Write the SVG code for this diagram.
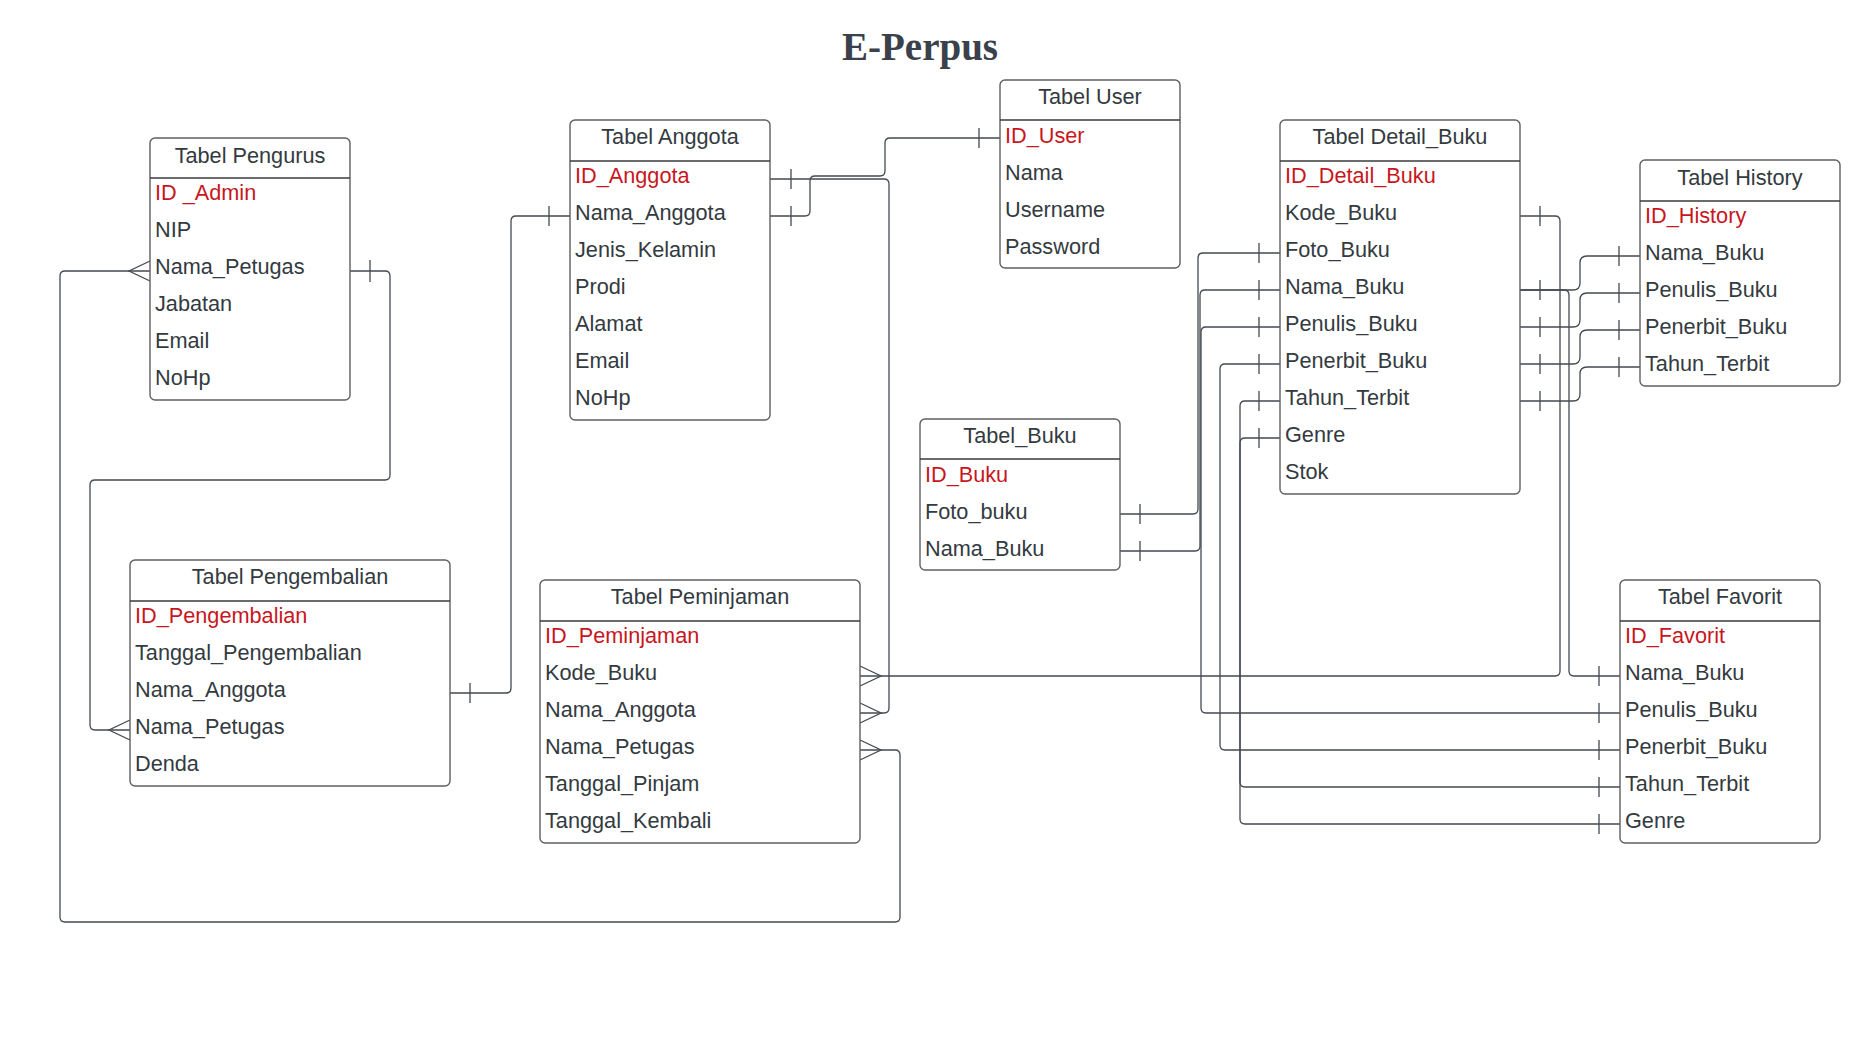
<svg xmlns="http://www.w3.org/2000/svg" width="1870" height="1042" viewBox="0 0 1870 1042">
<style>
.box{fill:#ffffff;stroke:#5f5f5f;stroke-width:1.4}
.sep{stroke:#3a3a3a;stroke-width:1.4}
.hd{font-family:"Liberation Sans",Arial,sans-serif;font-size:21.7px;fill:#333a40;text-anchor:middle}
.f{font-family:"Liberation Sans",Arial,sans-serif;font-size:21.7px;fill:#333a40}
.pk{font-family:"Liberation Sans",Arial,sans-serif;font-size:21.7px;fill:#c8161e}
.title{font-family:"Liberation Serif","Times New Roman",serif;font-size:39px;font-weight:bold;fill:#3a414a;text-anchor:middle}
.c{fill:none;stroke:#444a50;stroke-width:1.3}
</style>
<rect width="1870" height="1042" fill="#ffffff"/>
<text class="title" x="920" y="60">E-Perpus</text>

<g id="connectors">
<!-- Pengurus.Nama_Petugas -> Pengembalian.Nama_Petugas -->
<path class="c" d="M350,271 H385 Q390,271 390,276 V475 Q390,480 385,480 H95 Q90,480 90,485 V725 Q90,730 95,730 H130"/>
<path class="c" d="M370,260 V282 M130,720 L109,730 L130,740"/>
<!-- Pengurus.Nama_Petugas -> Peminjaman.Nama_Petugas -->
<path class="c" d="M150,271 H65 Q60,271 60,276 V917 Q60,922 65,922 H895 Q900,922 900,917 V755 Q900,750 895,750 H860"/>
<path class="c" d="M150,261 L129,271 L150,281 M860,740 L881,750 L860,760"/>
<!-- Anggota.Nama_Anggota -> Pengembalian.Nama_Anggota -->
<path class="c" d="M570,216 H516 Q511,216 511,221 V688 Q511,693 506,693 H450"/>
<path class="c" d="M549,206 V226 M470,683 V703"/>
<!-- Anggota.ID_Anggota -> Peminjaman.Nama_Anggota -->
<path class="c" d="M770,179 H884 Q889,179 889,184 V708 Q889,713 884,713 H860"/>
<path class="c" d="M791,169 V189 M860,703 L881,713 L860,723"/>
<!-- Anggota.Nama_Anggota -> User.ID_User -->
<path class="c" d="M770,216 H805 Q810,216 810,211 V181 Q810,176 815,176 H880 Q885,176 885,171 V143 Q885,138 890,138 H1000"/>
<path class="c" d="M791,206 V226 M979,128 V148"/>
<!-- Tabel_Buku -> Detail_Buku -->
<path class="c" d="M1120,514 H1193 Q1198,514 1198,509 V258 Q1198,253 1203,253 H1280"/>
<path class="c" d="M1120,551 H1195 Q1200,551 1200,546 V295 Q1200,290 1205,290 H1280"/>
<path class="c" d="M1140,504 V524 M1140,541 V561 M1259,243 V263 M1259,280 V300"/>
<!-- Detail_Buku -> Favorit -->
<path class="c" d="M1280,327 H1206 Q1201,327 1201,332 V708 Q1201,713 1206,713 H1620"/>
<path class="c" d="M1280,364 H1225 Q1220,364 1220,369 V745 Q1220,750 1225,750 H1620"/>
<path class="c" d="M1280,401 H1245 Q1240,401 1240,406 V782 Q1240,787 1245,787 H1620"/>
<path class="c" d="M1280,438 H1245 Q1240,438 1240,443 V819 Q1240,824 1245,824 H1620"/>
<path class="c" d="M1520,290 H1564 Q1569,290 1569,295 V671 Q1569,676 1574,676 H1620"/>
<path class="c" d="M1259,317 V337 M1259,354 V374 M1259,391 V411 M1259,428 V448"/>
<path class="c" d="M1599,666 V686 M1599,703 V723 M1599,740 V760 M1599,777 V797 M1599,814 V834"/>
<!-- Detail_Buku.Kode_Buku -> Peminjaman.Kode_Buku -->
<path class="c" d="M1520,216 H1555 Q1560,216 1560,221 V671 Q1560,676 1555,676 H860"/>
<path class="c" d="M1540,206 V226 M860,666 L881,676 L860,686"/>
<!-- Detail_Buku -> History -->
<path class="c" d="M1520,290 H1573 Q1580,290 1580,283 V263 Q1580,256 1587,256 H1640"/>
<path class="c" d="M1520,327 H1573 Q1580,327 1580,320 V300 Q1580,293 1587,293 H1640"/>
<path class="c" d="M1520,364 H1573 Q1580,364 1580,357 V337 Q1580,330 1587,330 H1640"/>
<path class="c" d="M1520,401 H1573 Q1580,401 1580,394 V374 Q1580,367 1587,367 H1640"/>
<path class="c" d="M1540,280 V300 M1540,317 V337 M1540,354 V374 M1540,391 V411"/>
<path class="c" d="M1619,246 V266 M1619,283 V303 M1619,320 V340 M1619,357 V377"/>
</g>

<g id="tabel-pengurus">
<rect class="box" x="150" y="138" width="200" height="262" rx="5"/>
<line class="sep" x1="150" y1="178" x2="350" y2="178"/>
<text class="hd" x="250" y="163">Tabel Pengurus</text>
<text class="pk" x="155" y="200">ID _Admin</text>
<text class="f" x="155" y="237">NIP</text>
<text class="f" x="155" y="274">Nama_Petugas</text>
<text class="f" x="155" y="311">Jabatan</text>
<text class="f" x="155" y="348">Email</text>
<text class="f" x="155" y="385">NoHp</text>
</g>

<g id="tabel-anggota">
<rect class="box" x="570" y="120" width="200" height="300" rx="5"/>
<line class="sep" x1="570" y1="161" x2="770" y2="161"/>
<text class="hd" x="670" y="144">Tabel Anggota</text>
<text class="pk" x="575" y="183">ID_Anggota</text>
<text class="f" x="575" y="220">Nama_Anggota</text>
<text class="f" x="575" y="257">Jenis_Kelamin</text>
<text class="f" x="575" y="294">Prodi</text>
<text class="f" x="575" y="331">Alamat</text>
<text class="f" x="575" y="368">Email</text>
<text class="f" x="575" y="405">NoHp</text>
</g>

<g id="tabel-user">
<rect class="box" x="1000" y="80" width="180" height="188" rx="5"/>
<line class="sep" x1="1000" y1="120" x2="1180" y2="120"/>
<text class="hd" x="1090" y="104">Tabel User</text>
<text class="pk" x="1005" y="143">ID_User</text>
<text class="f" x="1005" y="180">Nama</text>
<text class="f" x="1005" y="217">Username</text>
<text class="f" x="1005" y="254">Password</text>
</g>

<g id="tabel-detail-buku">
<rect class="box" x="1280" y="120" width="240" height="374" rx="5"/>
<line class="sep" x1="1280" y1="161" x2="1520" y2="161"/>
<text class="hd" x="1400" y="144">Tabel Detail_Buku</text>
<text class="pk" x="1285" y="183">ID_Detail_Buku</text>
<text class="f" x="1285" y="220">Kode_Buku</text>
<text class="f" x="1285" y="257">Foto_Buku</text>
<text class="f" x="1285" y="294">Nama_Buku</text>
<text class="f" x="1285" y="331">Penulis_Buku</text>
<text class="f" x="1285" y="368">Penerbit_Buku</text>
<text class="f" x="1285" y="405">Tahun_Terbit</text>
<text class="f" x="1285" y="442">Genre</text>
<text class="f" x="1285" y="479">Stok</text>
</g>

<g id="tabel-history">
<rect class="box" x="1640" y="160" width="200" height="226" rx="5"/>
<line class="sep" x1="1640" y1="201" x2="1840" y2="201"/>
<text class="hd" x="1740" y="185">Tabel History</text>
<text class="pk" x="1645" y="223">ID_History</text>
<text class="f" x="1645" y="260">Nama_Buku</text>
<text class="f" x="1645" y="297">Penulis_Buku</text>
<text class="f" x="1645" y="334">Penerbit_Buku</text>
<text class="f" x="1645" y="371">Tahun_Terbit</text>
</g>

<g id="tabel-buku">
<rect class="box" x="920" y="419" width="200" height="151" rx="5"/>
<line class="sep" x1="920" y1="459" x2="1120" y2="459"/>
<text class="hd" x="1020" y="443">Tabel_Buku</text>
<text class="pk" x="925" y="482">ID_Buku</text>
<text class="f" x="925" y="519">Foto_buku</text>
<text class="f" x="925" y="556">Nama_Buku</text>
</g>

<g id="tabel-pengembalian">
<rect class="box" x="130" y="560" width="320" height="226" rx="5"/>
<line class="sep" x1="130" y1="601" x2="450" y2="601"/>
<text class="hd" x="290" y="584">Tabel Pengembalian</text>
<text class="pk" x="135" y="623">ID_Pengembalian</text>
<text class="f" x="135" y="660">Tanggal_Pengembalian</text>
<text class="f" x="135" y="697">Nama_Anggota</text>
<text class="f" x="135" y="734">Nama_Petugas</text>
<text class="f" x="135" y="771">Denda</text>
</g>

<g id="tabel-peminjaman">
<rect class="box" x="540" y="580" width="320" height="263" rx="5"/>
<line class="sep" x1="540" y1="621" x2="860" y2="621"/>
<text class="hd" x="700" y="604">Tabel Peminjaman</text>
<text class="pk" x="545" y="643">ID_Peminjaman</text>
<text class="f" x="545" y="680">Kode_Buku</text>
<text class="f" x="545" y="717">Nama_Anggota</text>
<text class="f" x="545" y="754">Nama_Petugas</text>
<text class="f" x="545" y="791">Tanggal_Pinjam</text>
<text class="f" x="545" y="828">Tanggal_Kembali</text>
</g>

<g id="tabel-favorit">
<rect class="box" x="1620" y="580" width="200" height="263" rx="5"/>
<line class="sep" x1="1620" y1="621" x2="1820" y2="621"/>
<text class="hd" x="1720" y="604">Tabel Favorit</text>
<text class="pk" x="1625" y="643">ID_Favorit</text>
<text class="f" x="1625" y="680">Nama_Buku</text>
<text class="f" x="1625" y="717">Penulis_Buku</text>
<text class="f" x="1625" y="754">Penerbit_Buku</text>
<text class="f" x="1625" y="791">Tahun_Terbit</text>
<text class="f" x="1625" y="828">Genre</text>
</g>
</svg>
